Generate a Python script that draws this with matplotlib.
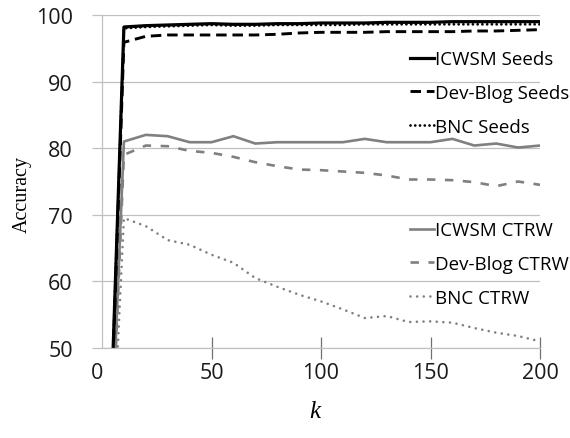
import matplotlib
matplotlib.use("Agg")
import matplotlib.pyplot as plt
from matplotlib.transforms import ScaledTranslation

# values
k = [0, 10, 20, 30, 40, 50, 60, 70, 80, 90, 100,
     110, 120, 130, 140, 150, 160, 170, 180, 190, 200]

icwsm_seeds = [0, 98.2, 98.4, 98.5, 98.6, 98.7, 98.6, 98.6, 98.7, 98.7, 98.8,
               98.8, 98.8, 98.9, 98.9, 98.9, 99.0, 99.0, 99.0, 99.0, 99.0]
devblog_seeds = [0, 95.9, 96.8, 97.0, 97.0, 97.0, 97.0, 97.0, 97.1, 97.3, 97.4,
                 97.4, 97.4, 97.5, 97.5, 97.5, 97.5, 97.6, 97.6, 97.7, 97.8]
bnc_seeds = [0, 98.0, 98.2, 98.3, 98.4, 98.5, 98.4, 98.4, 98.5, 98.5, 98.5,
             98.5, 98.6, 98.6, 98.6, 98.6, 98.6, 98.6, 98.6, 98.6, 98.6]

icwsm_ctrw = [0, 81.0, 82.0, 81.8, 80.9, 80.9, 81.8, 80.7, 80.9, 80.9, 80.9,
              80.9, 81.4, 80.9, 80.9, 80.9, 81.4, 80.4, 80.7, 80.1, 80.4]
devblog_ctrw = [0, 79.0, 80.4, 80.3, 79.6, 79.3, 78.7, 77.9, 77.3, 76.8, 76.7,
                76.5, 76.3, 75.9, 75.3, 75.3, 75.2, 74.9, 74.3, 75.0, 74.5]
bnc_ctrw = [0, 69.5, 68.3, 66.2, 65.5, 64.0, 62.8, 60.5, 59.2, 58.0, 57.0,
            55.8, 54.5, 54.8, 53.9, 54.0, 53.8, 53.0, 52.3, 51.8, 51.0]

x_ticks = [0, 50, 100, 150, 200]
y_ticks = [50, 60, 70, 80, 90, 100]

W, H, DPI = 570, 439, 100
fig = plt.figure(figsize=(W / DPI, H / DPI), dpi=DPI)
ax = fig.add_axes([102 / W, 1 - 349 / H, 438 / W, 333 / H])

grid_c = "#c0c0c0"
gray = "#808080"
sans = "Open Sans"

# CTRW runs (gray)
l4, = ax.plot(k, icwsm_ctrw, color=gray, lw=1.9, label="ICWSM CTRW")
l5, = ax.plot(k, devblog_ctrw, color=gray, lw=1.9, linestyle=(0, (3.2, 3.6)),
              label="Dev-Blog CTRW")
l6, = ax.plot(k, bnc_ctrw, color=gray, lw=1.9, linestyle=(0, (0.01, 2.5)),
              dash_capstyle="round", label="BNC CTRW")

# seed runs (black)
l3, = ax.plot(k, bnc_seeds, color="black", lw=2.0, linestyle=(0, (0.01, 1.7)),
              dash_capstyle="round", label="BNC Seeds")
l2, = ax.plot(k, devblog_seeds, color="black", lw=2.1, linestyle=(0, (3.6, 2.0)),
              label="Dev-Blog Seeds")
l1, = ax.plot(k, icwsm_seeds, color="black", lw=2.3, label="ICWSM Seeds")

ax.set_xlim(0, 200)
ax.set_ylim(50, 100)
ax.set_xticks(x_ticks)
ax.set_yticks(y_ticks)
ax.grid(axis="y", color=grid_c, lw=0.9)
ax.set_axisbelow(True)

for s in ["top", "right"]:
    ax.spines[s].set_visible(False)
for s in ["left", "bottom"]:
    ax.spines[s].set_color(grid_c)
    ax.spines[s].set_linewidth(0.9)

ax.tick_params(axis="y", direction="out", length=7, width=0.9, color=grid_c,
               pad=14, labelsize=15.5)
ax.tick_params(axis="x", direction="inout", length=16, width=0.9, color="#707070",
               pad=2, labelsize=15.5)
ax.xaxis.get_major_ticks()[0].tick1line.set_visible(False)
for lab in ax.get_xticklabels() + ax.get_yticklabels():
    lab.set_fontfamily(sans)
    lab.set_color("#1a1a1a")
# Excel puts the "0" a bit left of the axis
ax.get_xticklabels()[0].set_transform(
    ax.get_xticklabels()[0].get_transform() + ScaledTranslation(-5 / DPI, 0, fig.dpi_scale_trans))

ax.set_ylabel("Accuracy", family="Liberation Serif", fontsize=14.5)
ax.yaxis.set_label_coords((32 - 102) / 438, (349 - 195) / 333)
ax.set_xlabel("k", family="Liberation Serif", style="italic", fontsize=18)
ax.xaxis.set_label_coords((315 - 102) / 438, -(401 - 349) / 333)

leg_kw = dict(frameon=False, handlelength=1.3, handletextpad=0.05,
              borderpad=0, borderaxespad=0, labelspacing=0.85,
              prop={"family": sans, "size": 13.5}, loc="center left")
leg1 = ax.legend(handles=[l1, l2, l3], bbox_to_anchor=(410 / W, 1 - 94 / H),
                 bbox_transform=fig.transFigure, **leg_kw)
ax.add_artist(leg1)
ax.legend(handles=[l4, l5, l6], bbox_to_anchor=(410 / W, 1 - 265 / H),
          bbox_transform=fig.transFigure, **leg_kw)

fig.savefig("out.png", dpi=DPI)
